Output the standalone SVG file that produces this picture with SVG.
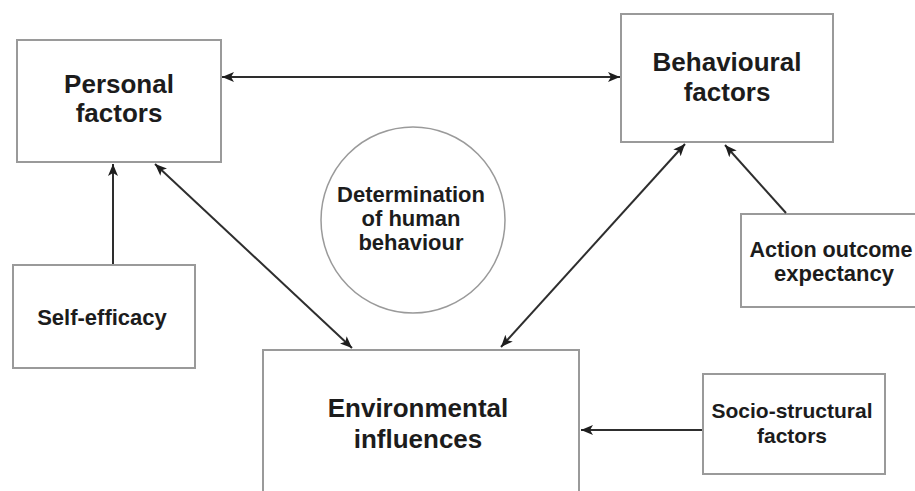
<svg xmlns="http://www.w3.org/2000/svg" width="915" height="491" viewBox="0 0 915 491">
  <style>
    .box { fill: #ffffff; stroke: #9a9a9a; stroke-width: 2; }
    .ring { fill: #ffffff; stroke: #9a9a9a; stroke-width: 1.5; }
    .lbl { font-family: "Liberation Sans", Arial, sans-serif; font-weight: bold; fill: #1c1c1c; text-anchor: middle; }
    .link { stroke: #2e2e2e; stroke-width: 2; fill: none; }
  </style>
  <defs>
    <marker id="head" viewBox="0 0 12 10" refX="12" refY="5" markerWidth="12" markerHeight="10" markerUnits="userSpaceOnUse" orient="auto-start-reverse">
      <path d="M0,0 L12,5 L0,10 L3,5 Z" fill="#1e1e1e"/>
    </marker>
  </defs>
  <rect width="915" height="491" fill="#ffffff"/>

  <g id="personal">
    <rect class="box" x="17" y="40" width="204" height="122"/>
    <text class="lbl" font-size="26" x="119" y="93">Personal</text>
    <text class="lbl" font-size="26" x="119" y="122">factors</text>
  </g>

  <g id="behavioural">
    <rect class="box" x="621" y="14" width="212" height="128"/>
    <text class="lbl" font-size="26" x="727" y="71">Behavioural</text>
    <text class="lbl" font-size="26" x="727" y="101">factors</text>
  </g>

  <g id="determination">
    <ellipse class="ring" cx="413" cy="220" rx="92" ry="93"/>
    <text class="lbl" font-size="22" x="411" y="202">Determination</text>
    <text class="lbl" font-size="22" x="411" y="226">of human</text>
    <text class="lbl" font-size="22" x="411" y="250">behaviour</text>
  </g>

  <g id="self-efficacy">
    <rect class="box" x="13" y="265" width="182" height="103"/>
    <text class="lbl" font-size="22" x="102" y="325">Self-efficacy</text>
  </g>

  <g id="action-outcome">
    <rect class="box" x="741" y="214" width="190" height="93"/>
    <text class="lbl" font-size="22" x="831" y="257" textLength="163" lengthAdjust="spacingAndGlyphs">Action outcome</text>
    <text class="lbl" font-size="22" x="834" y="281">expectancy</text>
  </g>

  <g id="environmental">
    <rect class="box" x="263" y="350" width="316" height="160"/>
    <text class="lbl" font-size="26" x="418" y="417">Environmental</text>
    <text class="lbl" font-size="26" x="418" y="448">influences</text>
  </g>

  <g id="socio-structural">
    <rect class="box" x="703" y="374" width="182" height="100"/>
    <text class="lbl" font-size="21" x="792" y="418">Socio-structural</text>
    <text class="lbl" font-size="21" x="792" y="443">factors</text>
  </g>

  <g id="connectors">
    <line class="link" x1="222" y1="77" x2="620" y2="77" marker-start="url(#head)" marker-end="url(#head)"/>
    <line class="link" x1="113" y1="264" x2="113" y2="164" marker-end="url(#head)"/>
    <line class="link" x1="155" y1="164" x2="352" y2="348" marker-start="url(#head)" marker-end="url(#head)"/>
    <line class="link" x1="685" y1="144" x2="501" y2="347" marker-start="url(#head)" marker-end="url(#head)"/>
    <line class="link" x1="786" y1="213" x2="725" y2="145" marker-end="url(#head)"/>
    <line class="link" x1="702" y1="430" x2="581" y2="430" marker-end="url(#head)"/>
  </g>
</svg>
